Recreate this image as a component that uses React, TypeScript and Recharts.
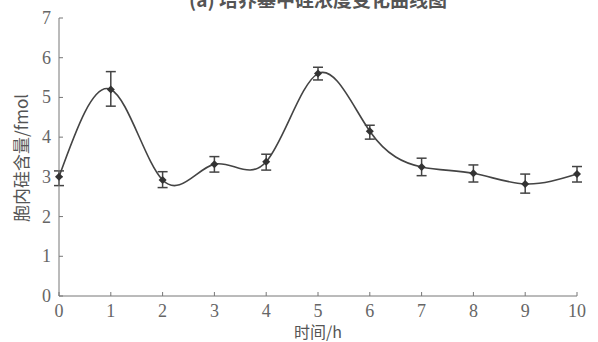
import React from 'react';
import { ErrorBar, Line, LineChart, XAxis, YAxis } from 'recharts';

const hours = [0, 1, 2, 3, 4, 5, 6, 7, 8, 9, 10];
const silicon = [3.0, 5.2, 2.92, 3.32, 3.38, 5.6, 4.15, 3.25, 3.09, 2.82, 3.07];
const errLow = [0.22, 0.42, 0.19, 0.2, 0.21, 0.16, 0.2, 0.22, 0.22, 0.23, 0.2];
const errHigh = [0.15, 0.45, 0.21, 0.19, 0.19, 0.16, 0.15, 0.22, 0.21, 0.25, 0.19];
const yTicks = [0, 1, 2, 3, 4, 5, 6, 7];

const data = hours.map((h, i) => ({
  h,
  v: silicon[i],
  err: [errLow[i], errHigh[i]],
}));

const serif = 'Liberation Serif';
const cjk = 'Noto Sans CJK SC';

const Diamond = (props: any) => {
  const { cx, cy } = props;
  if (cx == null || cy == null) return null;
  const r = 4;
  return (
    <path
      d={`M${cx},${cy - r}L${cx + r},${cy}L${cx},${cy + r}L${cx - r},${cy}Z`}
      fill="#333"
    />
  );
};

// tick positions come from the axis; only the text offset is tuned here
const XTick = (props: any) => {
  const { x, y, payload } = props;
  return (
    <text x={x} y={y + 25} textAnchor="middle" fill="#666" fontSize={18} fontFamily={serif}>
      {payload.value}
    </text>
  );
};

const YTick = (props: any) => {
  const { x, y, payload } = props;
  return (
    <text x={x} y={y + 6} textAnchor="end" fill="#666" fontSize={18} fontFamily={serif}>
      {payload.value}
    </text>
  );
};

const App = () => {
  return (
    <div style={{ position: 'absolute', left: 0, top: 0, width: 598, height: 342, overflow: 'hidden' }}>
      <div
        style={{
          position: 'absolute',
          left: 168,
          top: -11,
          width: 300,
          textAlign: 'center',
          fontFamily: cjk,
          fontSize: 19,
          lineHeight: '19px',
          fontWeight: 700,
          color: '#555',
        }}
      >
        (a) 培养基中硅浓度变化曲线图
      </div>
      <LineChart
        width={598}
        height={342}
        data={data}
        margin={{ top: 18, right: 21, bottom: 0, left: 0 }}
      >
        <XAxis
          dataKey="h"
          type="number"
          domain={[0, 10]}
          ticks={hours}
          height={46}
          tickSize={-4}
          tickMargin={0}
          stroke="#777"
          tick={<XTick />}
          label={{
            content: () => (
              <text
                x={318}
                y={331}
                textAnchor="middle"
                dominantBaseline="central"
                fill="#555"
                fontSize={16}
                fontFamily={cjk}
              >
                时间/h
              </text>
            ),
          }}
        />
        <YAxis
          type="number"
          domain={[0, 7]}
          ticks={yTicks}
          width={59}
          tickSize={-4}
          tickMargin={12}
          stroke="#777"
          tick={<YTick />}
          label={{
            content: () => (
              <text
                x={20}
                y={158}
                transform="rotate(-90 20 158)"
                textAnchor="middle"
                dominantBaseline="central"
                fill="#555"
                fontSize={17}
                fontFamily={cjk}
              >
                胞内硅含量/fmol
              </text>
            ),
          }}
        />
        <Line
          type="natural"
          dataKey="v"
          stroke="#444"
          strokeWidth={1.6}
          dot={<Diamond />}
          activeDot={false}
          isAnimationActive={false}
        >
          <ErrorBar dataKey="err" width={5} stroke="#444" strokeWidth={1.5} direction="y" />
        </Line>
      </LineChart>
    </div>
  );
};

export default App;
